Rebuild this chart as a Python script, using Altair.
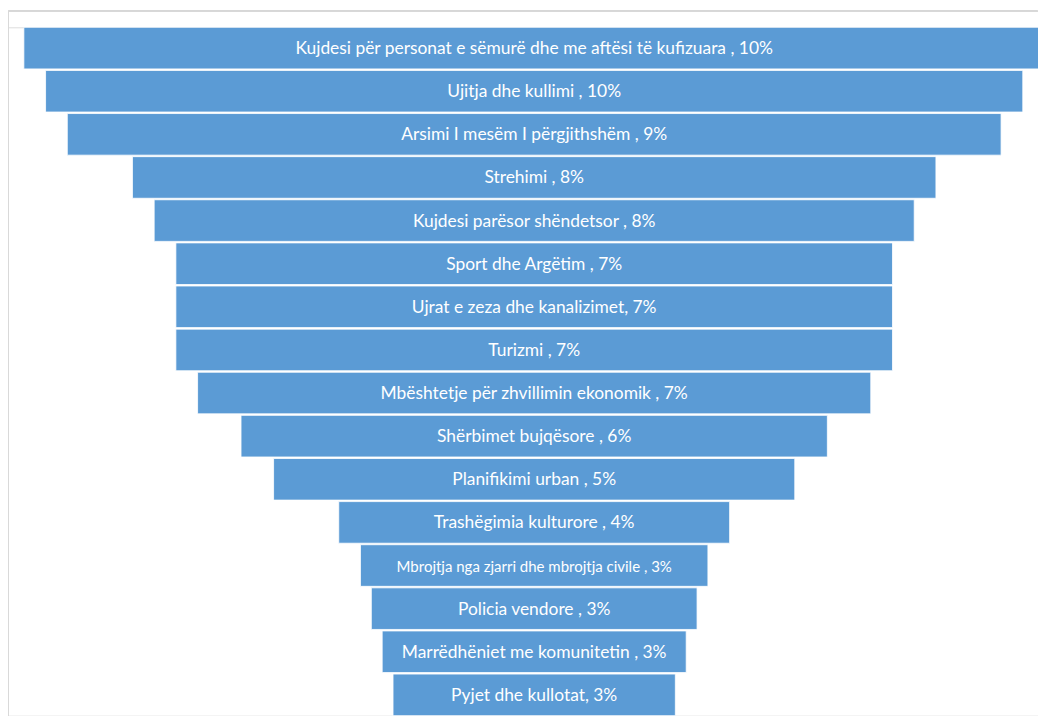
import altair as alt
import pandas as pd

categories = [
    "Kujdesi për personat e sëmurë dhe me aftësi të kufizuara",
    "Ujitja dhe kullimi",
    "Arsimi I mesëm I përgjithshëm",
    "Strehimi",
    "Kujdesi parësor shëndetsor",
    "Sport dhe Argëtim",
    "Ujrat e zeza dhe kanalizimet",
    "Turizmi",
    "Mbështetje për zhvillimin ekonomik",
    "Shërbimet bujqësore",
    "Planifikimi urban",
    "Trashëgimia kulturore",
    "Mbrojtja nga zjarri dhe mbrojtja civile",
    "Policia vendore",
    "Marrëdhëniet me komunitetin",
    "Pyjet dhe kullotat",
]
counts = [47, 45, 43, 37, 35, 33, 33, 33, 31, 27, 24, 18, 16, 15, 14, 13]
labels = [
    "Kujdesi për personat e sëmurë dhe me aftësi të kufizuara , 10%",
    "Ujitja dhe kullimi , 10%",
    "Arsimi I mesëm I përgjithshëm , 9%",
    "Strehimi , 8%",
    "Kujdesi parësor shëndetsor , 8%",
    "Sport dhe Argëtim , 7%",
    "Ujrat e zeza dhe kanalizimet, 7%",
    "Turizmi , 7%",
    "Mbështetje për zhvillimin ekonomik , 7%",
    "Shërbimet bujqësore , 6%",
    "Planifikimi urban , 5%",
    "Trashëgimia kulturore , 4%",
    "Mbrojtja nga zjarri dhe mbrojtja civile , 3%",
    "Policia vendore , 3%",
    "Marrëdhëniet me komunitetin , 3%",
    "Pyjet dhe kullotat, 3%",
]

df = pd.DataFrame({"category": categories, "count": counts, "label": labels})

W = 1030
H = 688.4
xscale = alt.Scale(domain=[-24.23, 23.2], nice=False, zero=False)
yenc = alt.Y("category:N", sort=categories, axis=None,
             scale=alt.Scale(paddingInner=0.035, paddingOuter=0))

base = alt.Chart(df).transform_calculate(
    lo="-datum.count / 2", hi="datum.count / 2", mid="0"
)

bars = base.mark_bar(color="#5B9BD5", stroke="#ffffff", strokeWidth=0.8).encode(
    x=alt.X("lo:Q", scale=xscale, axis=None),
    x2="hi:Q",
    y=yenc,
)

text = base.mark_text(color="white", font="Lato", baseline="middle", align="center", dy=1).encode(
    x=alt.X("mid:Q", scale=xscale, axis=None),
    y=yenc,
    text="label:N",
    size=alt.condition(
        "datum.category === 'Mbrojtja nga zjarri dhe mbrojtja civile'",
        alt.value(15), alt.value(17.4)),
)

frame_top = alt.Chart(df).mark_rule(color="#d9d9d9", strokeWidth=1).encode(
    x=alt.value(0.5), x2=alt.value(W), y=alt.value(-16)
)
frame_left = alt.Chart(df).mark_rule(color="#d9d9d9", strokeWidth=1).encode(
    x=alt.value(0.5), y=alt.value(-16), y2=alt.value(H)
)

chart = alt.layer(frame_top, frame_left, bars, text).properties(
    width=W, height=H,
    autosize=alt.AutoSizeParams(type="none"),
    padding={"left": 0, "top": 19.3, "right": 0, "bottom": 0},
).configure_view(stroke=None).configure(background="white")

chart.save("out.html", embed_options={"renderer": "svg", "actions": False})
